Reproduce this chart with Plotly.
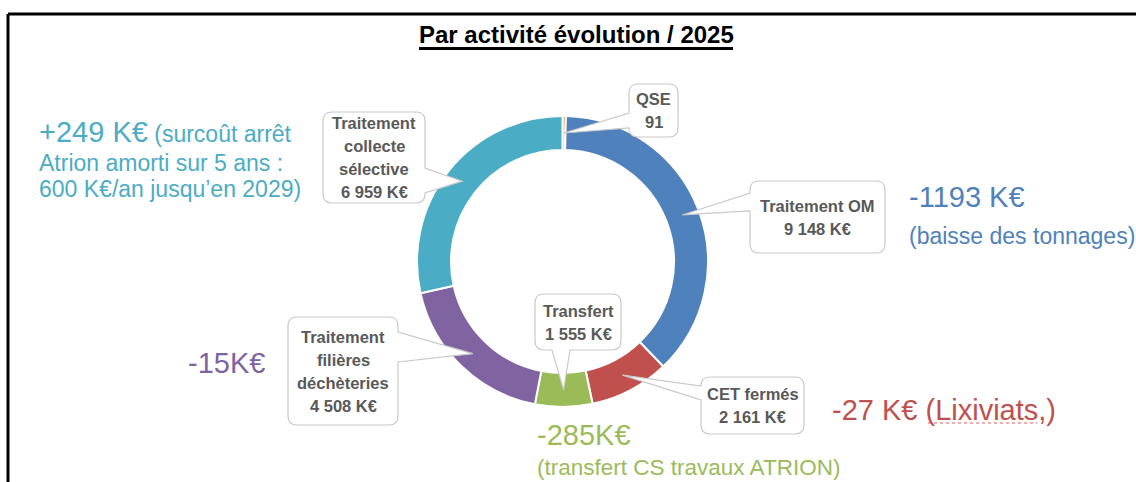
import math
import plotly.graph_objects as go

W, H = 1136, 482

# ---------------- data ----------------
labels = ["QSE", "Traitement OM", "CET fermés", "Transfert",
          "Traitement filières déchèteries", "Traitement collecte sélective"]
values = [91, 9148, 2161, 1555, 4508, 6959]
slice_colors = ["#F79646", "#4F81BD", "#C0504D", "#9BBB59", "#8064A2", "#4BACC6"]
callout_names = [["QSE"], ["Traitement OM"], ["CET fermés"], ["Transfert"],
                 ["Traitement", "filières", "déchèteries"], ["Traitement", "collecte", "sélective"]]
callout_units = ["", " K€", " K€", " K€", " K€", " K€"]

title_text = "Par activité évolution / 2025"

evo_teal = ["+249 K€", " (surcoût arrêt", "Atrion amorti sur 5 ans :", "600 K€/an jusqu’en 2029)"]
evo_blue = ["-1193 K€", "(baisse des tonnages)"]
evo_red = ["-27 K€ (Lixiviats,)"]
evo_green = ["-285K€", "(transfert CS travaux ATRION)"]
evo_purple = ["-15K€"]

# ---------------- geometry (layout) ----------------
cx, cy, R_out, R_in = 562.5, 261.5, 145.5, 111.5

# callout boxes: left, top, right, bottom, side of tail, tail base a, c
boxes = [
    (629, 84, 678, 137, "left", 113, 128),
    (750, 181, 885, 253, "left", 193, 211),
    (701, 377, 804, 434, "left", 386, 400),
    (535, 294, 621, 350, "bottom", 552, 570),
    (288, 317, 398, 425, "right", 332, 362),
    (323, 112, 425, 203, "right", 168, 193),
]


def fmt(v):
    return f"{v:,}".replace(",", " ")


def P(x, y):
    return f"{x / W:.5f},{1 - y / H:.5f}"


def callout_path(l, t, r, b, side, a, c, tip, rad=9):
    s = f"M {P(l + rad, t)}"
    if side == "top":
        s += f" L {P(a, t)} L {P(*tip)} L {P(c, t)}"
    s += f" L {P(r - rad, t)} Q {P(r, t)} {P(r, t + rad)}"
    if side == "right":
        s += f" L {P(r, a)} L {P(*tip)} L {P(r, c)}"
    s += f" L {P(r, b - rad)} Q {P(r, b)} {P(r - rad, b)}"
    if side == "bottom":
        s += f" L {P(c, b)} L {P(*tip)} L {P(a, b)}"
    s += f" L {P(l + rad, b)} Q {P(l, b)} {P(l, b - rad)}"
    if side == "left":
        s += f" L {P(l, c)} L {P(*tip)} L {P(l, a)}"
    s += f" L {P(l, t + rad)} Q {P(l, t)} {P(l + rad, t)} Z"
    return s


fig = go.Figure()
fig.add_trace(go.Pie(
    labels=labels, values=values, sort=False, direction="clockwise", rotation=0,
    hole=R_in / R_out,
    marker=dict(colors=slice_colors, line=dict(color="white", width=2)),
    textinfo="none", showlegend=False,
    domain=dict(x=[(cx - R_out) / W, (cx + R_out) / W],
                y=[1 - (cy + R_out) / H, 1 - (cy - R_out) / H]),
))

shapes = []
annotations = []
BASE = "Liberation Sans, Arial, sans-serif"
LINE_H = 23

# tips computed from the data (mid angle of each slice)
total = sum(values)
cum = 0.0
r_mid = (R_out + R_in) / 2
for i, v in enumerate(values):
    ang = (cum + v / 2) / total * 2 * math.pi
    cum += v
    tip = (cx + r_mid * math.sin(ang), cy - r_mid * math.cos(ang))
    l, t, r, b, side, a, c = boxes[i]
    shapes.append(dict(type="path", xref="paper", yref="paper",
                       path=callout_path(l, t, r, b, side, a, c, tip),
                       fillcolor="white", line=dict(color="#C9C9C9", width=1.2),
                       layer="above"))
    lines = callout_names[i] + [f"{fmt(v)}{callout_units[i]}"]
    n = len(lines)
    ymid = (t + b) / 2
    for k, ln in enumerate(lines):
        yk = ymid + (k - (n - 1) / 2) * LINE_H
        annotations.append(dict(x=(l + r) / 2 / W, y=1 - yk / H, xref="paper", yref="paper",
                                text=f"<b>{ln}</b>", showarrow=False, xanchor="center",
                                yanchor="middle", align="center",
                                font=dict(family=BASE, size=16.5, color="#595959")))

# border lines
shapes.append(dict(type="line", xref="paper", yref="paper", x0=8 / W, x1=1.0, y0=1 - 14 / H, y1=1 - 14 / H,
                   line=dict(color="black", width=3)))
shapes.append(dict(type="line", xref="paper", yref="paper", x0=8 / W, x1=8 / W, y0=1 - 14 / H, y1=0,
                   line=dict(color="black", width=3)))


def txt_ann(x, y, text, size, color):
    annotations.append(dict(x=x / W, y=1 - y / H, xref="paper", yref="paper", text=text,
                            showarrow=False, xanchor="left", yanchor="middle", align="left",
                            font=dict(family=BASE, size=size, color=color)))


# title + underline
annotations.append(dict(x=576 / W, y=1 - 35 / H, xref="paper", yref="paper",
                        text=f"<b>{title_text}</b>", showarrow=False,
                        xanchor="center", yanchor="middle",
                        font=dict(family=BASE, size=24, color="black")))
shapes.append(dict(type="line", xref="paper", yref="paper", x0=419 / W, x1=733 / W,
                   y0=1 - 48.5 / H, y1=1 - 48.5 / H, line=dict(color="black", width=3)))

TEAL, BLUE, RED, GREEN, PURPLE = "#4BACC6", "#4F81BD", "#C0504D", "#9BBB59", "#8064A2"
txt_ann(37, 132, f"<span style='font-size:29px'>{evo_teal[0]}</span>{evo_teal[1]}", 23, TEAL)
txt_ann(37, 163, evo_teal[2], 23, TEAL)
txt_ann(37, 189, evo_teal[3], 23, TEAL)
txt_ann(907, 197, evo_blue[0], 29, BLUE)
txt_ann(907, 236, evo_blue[1], 23, BLUE)
txt_ann(830, 410, evo_red[0], 29, RED)
txt_ann(535, 435, evo_green[0], 29, GREEN)
txt_ann(535, 467, evo_green[1], 22.5, GREEN)
txt_ann(186, 363, evo_purple[0], 29, PURPLE)

# spell-check squiggle under "Lixiviats,"
shapes.append(dict(type="line", xref="paper", yref="paper", x0=928 / W, x1=1037 / W,
                   y0=1 - 423 / H, y1=1 - 423 / H, line=dict(color="#E06060", width=1.2, dash="dot")))

fig.update_layout(width=W, height=H, margin=dict(l=0, r=0, t=0, b=0),
                  paper_bgcolor="white", plot_bgcolor="white",
                  shapes=shapes, annotations=annotations)

fig.write_html("out.html", config={"displayModeBar": False},
               post_script="document.body.style.margin='0px';document.body.style.overflow='hidden';")
